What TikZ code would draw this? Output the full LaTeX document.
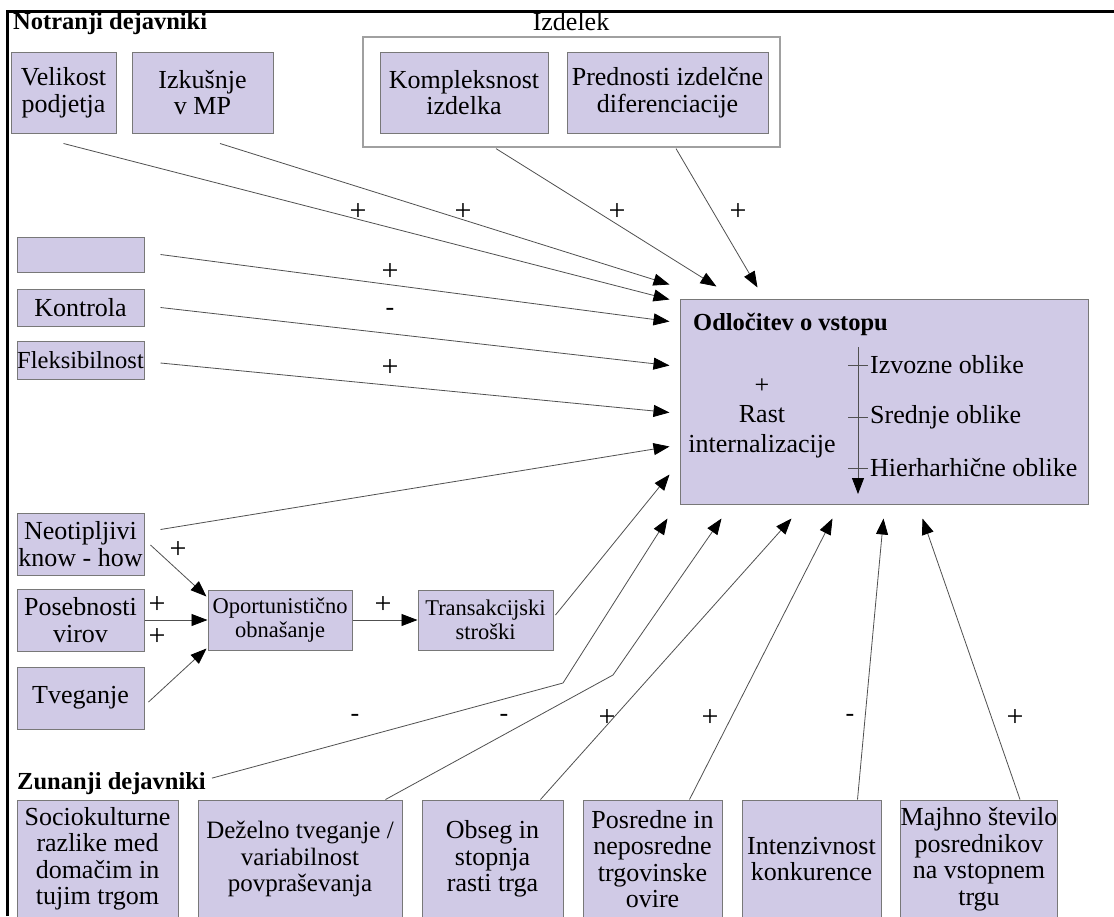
\documentclass[tikz,border=0pt]{standalone}
\usepackage{fontspec}
\setmainfont{Liberation Serif}
\usetikzlibrary{arrows.meta,calc}

\definecolor{boxfill}{RGB}{208,202,230}
\definecolor{boxline}{RGB}{120,120,120}
\definecolor{arrline}{RGB}{80,80,80}

\begin{document}
\begin{tikzpicture}[x=1pt,y=-1pt,
  box/.style={draw=boxline,line width=1pt,fill=boxfill,align=center,inner sep=0pt,font=\fontsize{26}{26.5}\selectfont},
  small/.style={font=\fontsize{22.5}{24}\selectfont},
  arr/.style={draw=arrline,line width=0.8pt,-{Triangle[length=16pt,width=12pt,color=black]}},
  sign/.style={font=\fontsize{30}{30}\selectfont,inner sep=0pt},
  minus/.style={font=\fontsize{26}{26}\selectfont,inner sep=0pt},
  head/.style={font=\fontsize{24.5}{26}\selectfont\bfseries,inner sep=0pt},
  txt/.style={font=\fontsize{26}{26}\selectfont,inner sep=1pt}]
  \fill[white] (0,0) rectangle (1114,916);
  \useasboundingbox (0,0) rectangle (1114,916);
  \clip (0,0) rectangle (1114,916);
  \draw[line width=3pt] (7.5,916) -- (7.5,11) -- (1114,11);

  % notranji dejavniki
  \node[head,anchor=base west] (notr) at (13,29) {Notranji dejavniki};
  \node[box,minimum width=105,minimum height=81] (vel) at (63.5,92.5) {Velikost\\podjetja};
  \node[box,minimum width=141,minimum height=81] (izk) at (202.5,92.5) {Izkušnje\\v MP};
  \node[draw=boxline!70,line width=1.2pt,fill=white,minimum width=417,minimum height=110] (izd) at (571.5,92) {};
  \node[txt,anchor=base] (izdl) at (571,30) {Izdelek};
  \node[box,minimum width=168,minimum height=81] (kom) at (464,92.5) {Kompleksnost\\izdelka};
  \node[box,minimum width=201,minimum height=81] (pre) at (667.5,92.5) {Prednosti izdelčne\\diferenciacije};
  \node[box,minimum width=127,minimum height=35] (emp) at (80.5,254.5) {};
  \node[box,minimum width=127,minimum height=37] (kon) at (80.5,307.5) {Kontrola};
  \node[box,font=\fontsize{24.5}{26}\selectfont,minimum width=127,minimum height=38] (fle) at (80.5,360) {Fleksibilnost};
  \node[box,minimum width=127,minimum height=62] (neo) at (80.5,544) {Neotipljivi\\know - how};
  \node[box,minimum width=127,minimum height=62] (pos) at (80.5,620) {Posebnosti\\virov};
  \node[box,minimum width=127,minimum height=62] (tve) at (80.5,698) {Tveganje};
  \node[box,small,minimum width=144,minimum height=60] (opo) at (280,620) {Oportunistično\\obnašanje};
  \node[box,small,minimum width=135,minimum height=60] (tra) at (485.5,620) {Transakcijski\\stroški};

  % odlocitev
  \node[box,minimum width=408,minimum height=205] (main) at (884,401.5) {};
  \node[head,anchor=base west] (odl) at (693,330) {Odločitev o vstopu};
  \node[font=\fontsize{26}{29.5}\selectfont,align=center,inner sep=0pt] (rast) at (762,418) {+\\Rast\\internalizacije};
  \coordinate (ax1) at (858,347);
  \coordinate (ax2) at (858,494);
  \draw[arr] (ax1) -- (ax2);
  \foreach \y in {365,417,468}
    \draw[draw=arrline,line width=0.8pt] (848,\y) -- (868,\y);
  \node[txt,anchor=west] (izv) at (869,365) {Izvozne oblike};
  \node[txt,anchor=west] (sre) at (869,417) {Srednje oblike};
  \node[txt,anchor=west] (hie) at (869,468) {Hierharhične oblike};

  % zunanji dejavniki
  \node[head,anchor=base west] (zun) at (17,789) {Zunanji dejavniki};
  \node[box,minimum width=161,minimum height=118] (soc) at (97.5,859) {Sociokulturne\\razlike med\\domačim in\\tujim trgom};
  \node[box,font=\fontsize{25}{26.5}\selectfont,minimum width=204,minimum height=118] (dez) at (300,859) {Deželno tveganje /\\variabilnost\\povpraševanja};
  \node[box,minimum width=141,minimum height=118] (obs) at (492.5,859) {Obseg in\\stopnja\\rasti trga};
  \node[box,minimum width=139,minimum height=118] (ovi) at (652.5,859) {Posredne in\\neposredne\\trgovinske\\ovire};
  \node[box,minimum width=139,minimum height=118] (int) at (811.5,859) {Intenzivnost\\konkurence};
  \node[box,minimum width=156,minimum height=118] (maj) at (979,859) {Majhno število\\posrednikov\\na vstopnem\\trgu};

  % povezave
  \draw[arr] ($(vel.south)+(0,10)$) -- ($(main.north west)+(-10,1)$);
  \draw[arr] ($(izk.south)+(17.5,10)$) -- ($(main.north west)+(-10,-14)$);
  \draw[arr] ($(izd.south)+(-75.5,1)$) -- ($(main.north west)+(37,-12)$);
  \draw[arr] ($(izd.south)+(104.5,1)$) -- ($(main.north west)+(78,-11)$);
  \draw[arr] ($(emp.east)+(16,0)$) -- ($(main.north west)+(-10,23)$);
  \draw[arr] ($(kon.east)+(16,0)$) -- ($(main.north west)+(-10,67)$);
  \draw[arr] ($(fle.east)+(16,3)$) -- ($(main.north west)+(-10,114)$);
  \draw[arr] ($(neo.north east)+(16,17)$) -- ($(main.north west)+(-10,148)$);
  \draw[arr] ($(tra.east)+(2,-5)$) -- ($(main.north west)+(-10,176)$);

  \draw[arr] ($(neo.east)+(6,1)$) -- ($(opo.north west)+(-1,7)$);
  \draw[arr] (pos.east) -- (opo.west);
  \draw[arr] ($(tve.east)+(4,4)$) -- ($(opo.south west)+(-1,-2)$);
  \draw[arr] (opo.east) -- (tra.west);

  \coordinate (b1) at (563,683);
  \coordinate (b2) at (613,675);
  \draw[arr] ($(zun.east)+(6,-5)$) -- (b1) -- ($(main.south west)+(-12,14)$);
  \draw[arr] ($(dez.north east)+(-17,0)$) -- (b2) -- ($(main.south west)+(42,14)$);
  \draw[arr] ($(obs.north east)+(-23,0)$) -- ($(main.south west)+(112,14)$);
  \draw[arr] ($(ovi.north)+(37,0)$) -- ($(main.south west)+(153,14)$);
  \draw[arr] ($(int.north)+(46,0)$) -- ($(main.south west)+(204,14)$);
  \draw[arr] ($(maj.north)+(41,0)$) -- ($(main.south west)+(243,14)$);

  % predznaki
  \node[sign] (s1) at (358,212) {+};
  \node[sign] (s2) at (463,212) {+};
  \node[sign] (s3) at (617,212) {+};
  \node[sign] (s4) at (738,212) {+};
  \node[sign] (s5) at (390,272) {+};
  \node[minus] (s6) at (390,312) {-};
  \node[sign] (s7) at (390,368) {+};
  \node[sign] (s8) at (178,550) {+};
  \node[sign] (s9) at (157,605) {+};
  \node[sign] (s10) at (157,637) {+};
  \node[sign] (s11) at (383,605) {+};
  \node[minus] (s12) at (355,718) {-};
  \node[minus] (s13) at (504,718) {-};
  \node[sign] (s14) at (607,718) {+};
  \node[sign] (s15) at (710,718) {+};
  \node[minus] (s16) at (850,718) {-};
  \node[sign] (s17) at (1015,718) {+};
\end{tikzpicture}
\end{document}
